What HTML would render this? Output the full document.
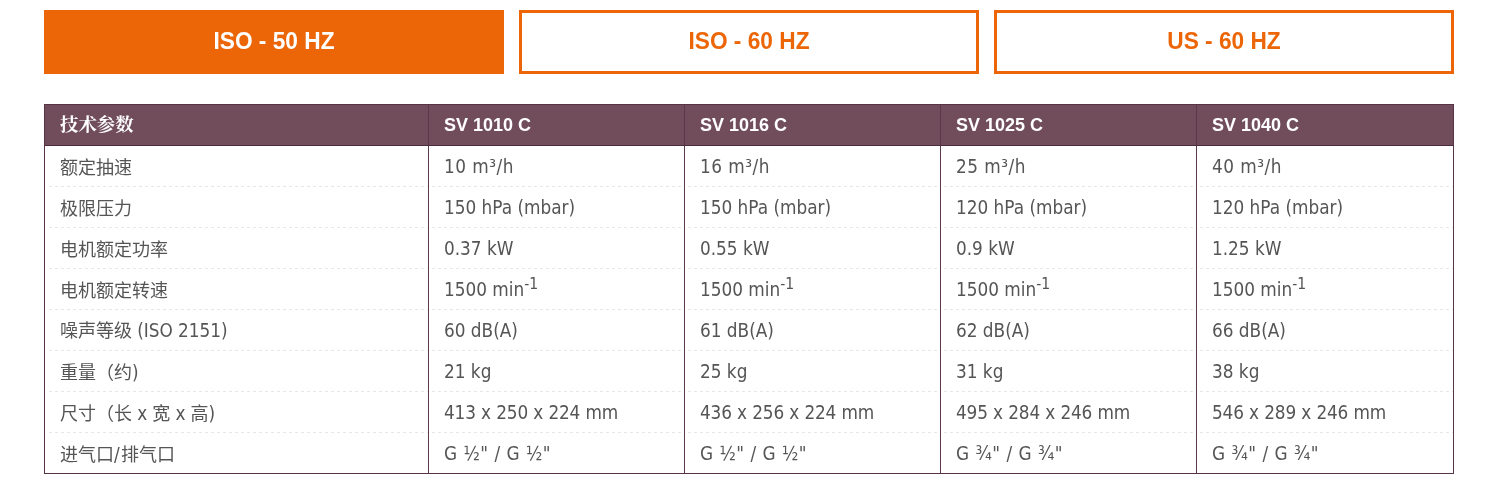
<!DOCTYPE html>
<html lang="zh-CN">
<head>
<meta charset="utf-8">
<title>SV C</title>
<style>
html,body{margin:0;padding:0;background:#fff;}
body{width:1497px;height:497px;overflow:hidden;position:relative;font-family:"DejaVu Sans Condensed","DejaVu Sans","Liberation Sans","Noto Sans CJK SC",sans-serif;font-stretch:condensed;color:#555;}
.tabs{position:absolute;left:44px;top:10px;width:1410px;height:64px;}
.tab{position:absolute;top:0;height:64px;width:460px;box-sizing:border-box;border:3px solid #ec6608;color:#ec6608;background:#fff;
 font-family:"Liberation Sans",sans-serif;font-stretch:normal;font-weight:bold;font-size:22.7px;line-height:58px;text-align:center;}
.tab span{display:inline-block;transform:scaleY(1.035);transform-origin:50% 50%;position:relative;top:-1.5px;}
.tab.active{background:#ec6608;color:#fff;}
.t1{left:0}.t2{left:475px}.t3{left:950px}
table{position:absolute;left:44px;top:104px;width:1410px;border-collapse:separate;border-spacing:0;table-layout:fixed;border:1px solid #563446;}
th{background:#714d5c;color:#fff;font-family:"Liberation Sans","Noto Serif CJK SC",sans-serif;font-stretch:normal;font-weight:bold;font-size:18px;text-align:left;height:41px;padding:0 0 0 15px;border-left:1px solid #583748;border-bottom:1px solid #4c293b;box-sizing:border-box;white-space:nowrap;}
th:first-child{border-left:0;padding-left:15px;font-size:18.4px;}
th b{display:inline-block;font-weight:700;position:relative;top:-2px;}
th span{display:inline-block;transform:scaleY(1.04);transform-origin:50% 55%;}
td{height:41px;padding:0 0 0 15px;font-size:18.8px;border-left:1px solid #5a394a;box-sizing:border-box;white-space:nowrap;
 background-image:repeating-linear-gradient(90deg,transparent 0,transparent 3px,#ebe5e6 3px,#ebe5e6 6px);background-size:100% 1px;background-repeat:no-repeat;background-position:0 0;}
td:first-child{font-size:18px;border-left:0;padding-left:15px;background-position:1px 0;}
td i{font-style:normal;font-size:18.8px;}
tr.r1 td{height:40px;background-image:none;}
sup{font-size:15.6px;line-height:0;vertical-align:baseline;position:relative;top:-7px;}
td+td{padding-top:1px;}
tr.r1 td+td{padding-top:0;}
i.sl{margin-right:1.3px;}
tr.r5 td:first-child{padding-bottom:2px;}
tr.r1 td+td{letter-spacing:0.5px;}
tr.r7 td+td{letter-spacing:-0.13px;}
tr.r8 td+td{letter-spacing:0.5px;}
</style>
</head>
<body>
<div class="tabs">
<div class="tab active t1"><span>ISO - 50 HZ</span></div>
<div class="tab t2"><span>ISO - 60 HZ</span></div>
<div class="tab t3"><span>US - 60 HZ</span></div>
</div>
<table>
<colgroup><col style="width:383px"><col style="width:256px"><col style="width:256px"><col style="width:256px"><col style="width:257px"></colgroup>
<tr><th><b>技术参数</b></th><th><span>SV 1010 C</span></th><th><span>SV 1016 C</span></th><th><span>SV 1025 C</span></th><th><span>SV 1040 C</span></th></tr>
<tr class="r1"><td>额定抽速</td><td>10 m³/h</td><td>16 m³/h</td><td>25 m³/h</td><td>40 m³/h</td></tr>
<tr><td>极限压力</td><td>150 hPa (mbar)</td><td>150 hPa (mbar)</td><td>120 hPa (mbar)</td><td>120 hPa (mbar)</td></tr>
<tr><td>电机额定功率</td><td>0.37 kW</td><td>0.55 kW</td><td>0.9 kW</td><td>1.25 kW</td></tr>
<tr><td>电机额定转速</td><td>1500 min<sup>-1</sup></td><td>1500 min<sup>-1</sup></td><td>1500 min<sup>-1</sup></td><td>1500 min<sup>-1</sup></td></tr>
<tr class="r5"><td>噪声等级 <i>(ISO 2151)</i></td><td>60 dB(A)</td><td>61 dB(A)</td><td>62 dB(A)</td><td>66 dB(A)</td></tr>
<tr><td>重量（约<i>)</i></td><td>21 kg</td><td>25 kg</td><td>31 kg</td><td>38 kg</td></tr>
<tr class="r7"><td>尺寸（长 <i>x</i> 宽 <i>x</i> 高<i>)</i></td><td>413 x 250 x 224 mm</td><td>436 x 256 x 224 mm</td><td>495 x 284 x 246 mm</td><td>546 x 289 x 246 mm</td></tr>
<tr class="r8"><td>进气口<i class="sl">/</i>排气口</td><td>G ½" / G ½"</td><td>G ½" / G ½"</td><td>G ¾" / G ¾"</td><td>G ¾" / G ¾"</td></tr>
</table>
</body>
</html>
